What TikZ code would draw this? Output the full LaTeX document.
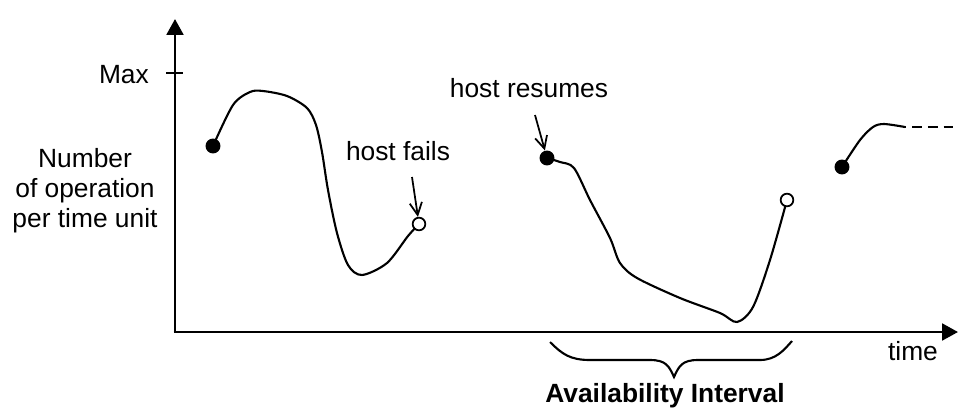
\documentclass[tikz,border=0pt]{standalone}
\usepackage{fontspec}
\setmainfont{Liberation Sans}
\usetikzlibrary{arrows.meta}

\tikzset{
  axis/.style={line width=1.5pt,-{Triangle[length=9pt,width=9.5pt]}},
  curve/.style={line width=1.2pt,line join=round},
  pointer/.style={line width=1pt,-{Straight Barb[length=7pt,width=7pt]}},
  updot/.style={circle,fill=black,inner sep=0pt,minimum size=8.5pt},
  downdot/.style={circle,draw=black,fill=white,line width=1pt,inner sep=0pt,minimum size=7.2pt},
  lbl/.style={font=\fontsize{15}{17}\selectfont}
}

\begin{document}
\begin{tikzpicture}[x=0.02cm,y=-0.02cm]
  \useasboundingbox (0,0) rectangle (958,407);

  % axes
  \coordinate (O) at (175,332);
  \coordinate (ytop) at (175,19);
  \coordinate (xend) at (958,332);
  \draw[axis] (O) -- (ytop);
  \draw[axis] ([xshift=-0.75pt]O) -- (xend);
  \coordinate (maxl) at (166,73);
  \coordinate (maxr) at (183,73);
  \draw[line width=1.1pt] (maxl) -- (maxr);
  \node[lbl,anchor=east] (max) at (155,75) {Max};
  \node[lbl,align=center] (ylab) at (85,191) {Number\\of operation\\per time unit};
  \node[lbl,anchor=base] (time) at (913,360) {time};

  % points where the host comes up / goes down
  \coordinate (up1) at (213,146);
  \coordinate (down1) at (419,224);
  \coordinate (up2) at (547,158);
  \coordinate (down2) at (787,200);
  \coordinate (up3) at (842,167);
  \coordinate (tail) at (905,127);
  \coordinate (tailend) at (958,127);

  \draw[curve] plot[smooth,tension=0.5] coordinates {(up1) (233,105) (250,92) (263,91)
    (287,96) (307,108) (316,125) (322,152) (328,190) (337,233) (348,265) (362,275)
    (387,263) (408,236) (down1)};
  \draw[curve] plot[smooth,tension=0.5] coordinates {(up2) (560,162) (574,168) (590,200)
    (610,238) (620,263) (637,278) (680,298) (720,313) (737,322) (753,307) (770,260)
    (down2)};
  \draw[curve] plot[smooth,tension=0.5] coordinates {(up3) (860,140) (873,127) (884,124)
    (tail)};
  \draw[line width=1.2pt,dash pattern=on 5.5pt off 3.5pt,dash phase=-4pt] (tail) -- (tailend);

  \node[updot] (u1) at (up1) {};
  \node[downdot] (d1) at (down1) {};
  \node[updot] (u2) at (up2) {};
  \node[downdot] (d2) at (down2) {};
  \node[updot] (u3) at (up3) {};

  % labels with pointers
  \node[lbl,anchor=base] (fails) at (398,160) {host fails};
  \coordinate (failsptr) at (412,177);
  \draw[pointer] (failsptr) -- (d1);
  \node[lbl,anchor=base] (resumes) at (529,97) {host resumes};
  \coordinate (resumesptr) at (535,115);
  \draw[pointer] (resumesptr) -- (u2);

  % availability interval
  \coordinate (bl) at (550,342);
  \coordinate (br) at (792,341);
  \coordinate (btip) at (674,377);
  \draw[line width=1.2pt] (bl) .. controls (562,354) and (570,360) .. (590,360)
    -- (650,360) .. controls (666,360) and (669,366) .. (btip)
    .. controls (679,366) and (682,360) .. (698,360) -- (760,360)
    .. controls (776,360) and (784,350) .. (br);
  \node[lbl,font=\fontsize{15}{17}\selectfont\bfseries,anchor=base] (avail) at (665,402) {Availability Interval};
\end{tikzpicture}
\end{document}
